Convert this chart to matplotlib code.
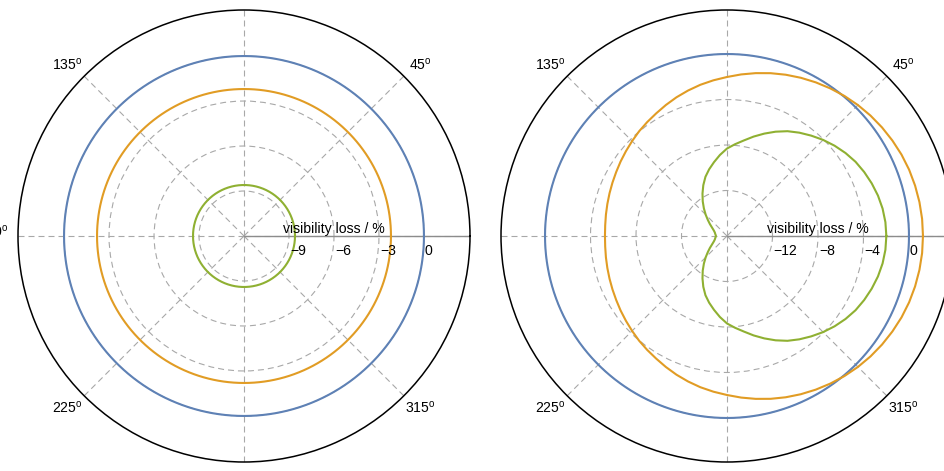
"""
plot.py

Two polar plots of visibility loss (%) vs. angle, drawn side by side.
Saves the figure as out.png.
"""

import numpy as np
import matplotlib
matplotlib.use("Agg")
import matplotlib.pyplot as plt
from matplotlib.transforms import offset_copy

plt.rcParams["font.family"] = ["Liberation Sans", "DejaVu Sans"]
plt.rcParams["mathtext.default"] = "regular"

BLUE = "#5e81b5"
ORANGE = "#e19c24"
GREEN = "#8fb032"
GRID_COLOR = "#a8a8a8"
AXIS_COLOR = "#8c8c8c"
DASH = (0, (5.4, 3.6))
FONT_SIZE = 10.1

AXIS_LABEL = "visibility loss / %"
ANGLE_LABELS = [45, 135, 225, 315]

# left panel: all three curves are circles (constant loss)
LEFT_RLIM = (-12, 3.07)
LEFT_RTICKS = [-9, -6, -3, 0]
LEFT_BLUE = 0.0
LEFT_ORANGE = -2.2
LEFT_GREEN = -8.6

# right panel: read every 5 deg from 0 to 180, curves are symmetric about 0 deg
RIGHT_RLIM = (-16, 3.87)
RIGHT_RTICKS = [-12, -8, -4, 0]
ANGLES_DEG = [0, 5, 10, 15, 20, 25, 30, 35, 40, 45, 50, 55, 60, 65, 70, 75, 80, 85, 90,
              95, 100, 105, 110, 115, 120, 125, 130, 135, 140, 145, 150, 155, 160,
              165, 170, 175, 180]
RIGHT_BLUE = 0.0
RIGHT_ORANGE = [1.23, 1.22, 1.18, 1.12, 1.04, 0.93, 0.79, 0.64, 0.47, 0.28,
                0.07, -0.16, -0.40, -0.65, -0.91, -1.18, -1.46, -1.74, -2.02,
                -2.26, -2.50, -2.76, -3.02, -3.29, -3.55, -3.77, -3.98, -4.20,
                -4.40, -4.58, -4.75, -4.89, -5.01, -5.11, -5.19, -5.25, -5.27]
RIGHT_GREEN = [-1.99, -2.02, -2.11, -2.26, -2.46, -2.69, -2.95, -3.28, -3.65, -4.05,
               -4.48, -4.91, -5.36, -5.88, -6.42, -6.95, -7.47, -7.90, -8.31,
               -8.85, -9.41, -9.93, -10.46, -11.07, -11.69, -12.28, -12.84, -13.35,
               -13.80, -14.16, -14.46, -14.67, -14.81, -14.90, -14.95, -15.00, -15.03]


def mirror(angles, values):
    """Extend a 0..180 deg half curve to the full circle."""
    a = np.asarray(angles, dtype=float)
    v = np.asarray(values, dtype=float)
    full_a = np.concatenate([a, 360 - a[-2::-1]])
    full_v = np.concatenate([v, v[-2::-1]])
    return np.deg2rad(full_a), full_v


def fmt_tick(t):
    return str(t).replace("-", "\u2212")


def draw_panel(fig, ax, rlim, rticks, circles, curves, extra_labels=()):
    ax.set_ylim(*rlim)

    # grid: dashed circles and spokes
    ax.set_thetagrids(np.arange(0, 360, 45), labels=[""] * 8)
    ax.set_rticks(rticks)
    ax.set_yticklabels([])
    ax.tick_params(axis="y", length=0)
    ax.tick_params(axis="x", direction="inout", length=6, width=0.8,
                   colors="black", pad=0)
    ax.xaxis.grid(True, color=GRID_COLOR, linestyle=DASH, linewidth=0.8)
    ax.yaxis.grid(True, color=GRID_COLOR, linestyle=DASH, linewidth=0.8)
    ax.spines["polar"].set_color("black")
    ax.spines["polar"].set_linewidth(1.1)

    # solid radial axis along 0 deg
    ax.plot([0, 0], [rlim[0], rlim[1]], color=AXIS_COLOR, lw=1.0, zorder=2)

    # curves
    theta = np.linspace(0, 2 * np.pi, 361)
    for r, color in circles:
        ax.plot(theta, np.full_like(theta, r), color=color, lw=1.5, zorder=3)
    for th, r, color in curves:
        ax.plot(th, r, color=color, lw=1.5, zorder=3,
                solid_joinstyle="round")

    # radial tick labels below the axis
    tick_tr = offset_copy(ax.transData, fig=fig, x=1, y=-8, units="dots")
    for t in rticks:
        ax.text(0, t, fmt_tick(t), transform=tick_tr, ha="left", va="top",
                fontsize=FONT_SIZE, zorder=4)

    # axis label above the axis, centred on the second tick
    lab_tr = offset_copy(ax.transData, fig=fig, x=0, y=3, units="dots")
    ax.text(0, rticks[1], AXIS_LABEL, transform=lab_tr, ha="center",
            va="baseline", fontsize=FONT_SIZE, zorder=4)

    # angle labels outside the circle
    for deg in ANGLE_LABELS:
        sx = 1 if deg in (45, 315) else -1
        sy = 1 if deg in (45, 135) else -1
        ax.text(0.5 + sx * 0.390, 0.5 + sy * 0.380,
                f"{deg}$^{{o}}$", transform=ax.transAxes,
                ha="center", va="center", fontsize=FONT_SIZE)
    for txt, x, y, ha in extra_labels:
        ax.text(x, y, txt, transform=ax.transAxes, ha=ha, va="center",
                fontsize=FONT_SIZE)


def main():
    fig = plt.figure(figsize=(9.44, 4.71), dpi=100)
    w, h = 452 / 944, 452 / 471
    ax_l = fig.add_axes([18 / 944, 9 / 471, w, h], projection="polar")
    ax_r = fig.add_axes([501 / 944, 9 / 471, w, h], projection="polar")

    # 1. Left panel
    draw_panel(
        fig, ax_l, LEFT_RLIM, LEFT_RTICKS,
        circles=[(LEFT_BLUE, BLUE), (LEFT_ORANGE, ORANGE), (LEFT_GREEN, GREEN)],
        curves=[],
        extra_labels=[("180$^{o}$", -0.022, 0.51, "right")],
    )

    # 2. Right panel
    th_o, r_o = mirror(ANGLES_DEG, RIGHT_ORANGE)
    th_g, r_g = mirror(ANGLES_DEG, RIGHT_GREEN)
    draw_panel(
        fig, ax_r, RIGHT_RLIM, RIGHT_RTICKS,
        circles=[(RIGHT_BLUE, BLUE)],
        curves=[(th_o, r_o, ORANGE), (th_g, r_g, GREEN)],
    )

    fig.savefig("out.png", dpi=100)


if __name__ == "__main__":
    main()
